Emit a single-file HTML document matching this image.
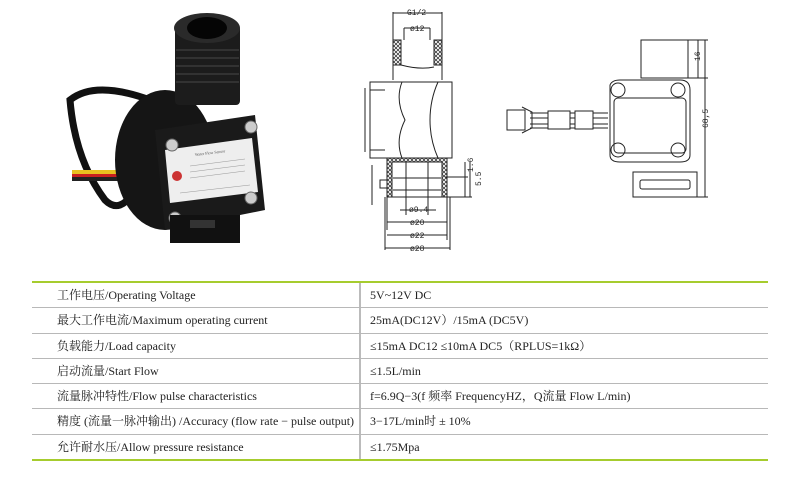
<!DOCTYPE html>
<html><head><meta charset="utf-8"><style>
body{margin:0;width:800px;height:485px;background:#fff;overflow:hidden;position:relative;font-family:"Liberation Serif","Noto Serif CJK SC",serif;}
.t{position:absolute;left:32px;top:281px;width:736px;border-top:2px solid #a6cc2e;border-bottom:2px solid #a6cc2e;}
.r{height:24.3px;border-bottom:1px solid #b8b8b8;position:relative;font-size:12px;color:#222;line-height:24px;}
.r:last-child{border-bottom:none}
.a{position:absolute;left:25px;white-space:nowrap}
.b{position:absolute;left:338px;white-space:nowrap}
.dv{position:absolute;left:327px;top:0;bottom:0;border-left:2px solid #bbb}
svg{position:absolute;left:0;top:0}
</style></head><body>
<svg width="800" height="270" viewBox="0 0 800 270">
<defs><pattern id="h" width="4" height="4" patternUnits="userSpaceOnUse"><path d="M0 0L4 4M4 0L0 4" stroke="#222" stroke-width="0.7"/></pattern></defs>
<path d="M70 100 Q95 80 150 100 Q130 140 135 190 Q120 215 105 200 Q75 160 70 100Z" fill="none" stroke="#111" stroke-width="7"/>
<rect x="72" y="170" width="90" height="4" fill="#e8c020"/>
<rect x="72" y="174" width="90" height="3" fill="#c82020"/>
<rect x="72" y="177" width="90" height="4" fill="#222"/>
<ellipse cx="165" cy="160" rx="50" ry="70" fill="#151515"/>
<rect x="175" y="25" width="65" height="80" rx="4" fill="#1c1c1c"/>
<ellipse cx="207" cy="28" rx="33" ry="15" fill="#2a2a2a"/>
<ellipse cx="207" cy="28" rx="20" ry="11" fill="#050505"/>
<g stroke="#3a3a3a" stroke-width="1.5"><path d="M176 50H239M176 58H239M176 66H239M176 74H239M176 82H239"/></g>
<path d="M155 130 L255 115 L265 210 L165 230Z" fill="#1a1a1a"/>
<path d="M165 150 L252 138 L258 192 L170 203Z" fill="#eee"/>
<g fill="#555" font-size="4"><text x="195" y="156" transform="rotate(-7 195 156)">Water Flow Sensor</text></g>
<g stroke="#999" stroke-width="0.6"><path d="M190 166L245 159M190 172L245 165M190 178L245 171M180 193L250 185"/></g>
<circle cx="177" cy="176" r="5" fill="#c33"/>
<g fill="#ccc" stroke="#666"><circle cx="172" cy="145" r="6"/><circle cx="251" cy="127" r="6"/><circle cx="175" cy="218" r="6"/><circle cx="251" cy="198" r="6"/></g>
<rect x="170" y="215" width="70" height="28" fill="#111"/>
<rect x="190" y="220" width="25" height="8" fill="#333"/>
<g fill="none" stroke="#222" stroke-width="1">
<path d="M393 12V40M442 12V40M393 13H442M404 28H430M404 28V40M430 28V40"/>
<rect x="393" y="40" width="8" height="25" fill="url(#h)"/><rect x="434" y="40" width="8" height="25" fill="url(#h)"/>
<path d="M393 40V80M442 40V80M401 65Q420 70 434 67"/>
<path d="M370 82H452V158H370Z"/><path d="M365 88V152M370 90H385M370 150H385"/>
<path d="M402 82Q395 100 405 120Q395 140 402 158M438 82Q430 100 430 120Q430 140 438 158"/>
<path d="M387 158H447V197H387Z" fill="url(#h)"/><rect x="392" y="162" width="50" height="35" fill="#fff"/>
<path d="M380 180h7v8h-7z"/>
<path d="M393 178H441M393 190H441"/>
<path d="M406 162V215M428 162V215M387 197V230M447 197V240M385 197V250M450 197V250M372 165V205"/>
<path d="M400 210H436M387 222H447M387 235H447M385 248H450M465 162V197M470 162V197M445 177H468M445 197H472"/>
</g>
<g font-family="Liberation Mono,monospace" font-size="8" fill="#222">
<text x="407" y="15">G1/2</text><text x="410" y="31">ø12</text>
<text x="409" y="212">ø9.4</text><text x="410" y="225">ø20</text><text x="410" y="238">ø22</text><text x="410" y="251">ø28</text>
<text x="473" y="172" transform="rotate(-90 473 172)">1.6</text><text x="481" y="186" transform="rotate(-90 481 186)">5.5</text>
</g>
<g fill="none" stroke="#222" stroke-width="1">
<rect x="641" y="40" width="47" height="38"/>
<path d="M610 85Q612 80 620 80H680Q690 80 690 90V155Q690 162 680 162H620Q610 162 610 155Z"/>
<rect x="614" y="98" width="72" height="55" rx="4"/>
<g><circle cx="618" cy="90" r="7"/><circle cx="678" cy="90" r="7"/><circle cx="618" cy="150" r="7"/><circle cx="678" cy="150" r="7"/></g>
<path d="M633 172H697V197H633Z"/><rect x="640" y="180" width="50" height="9" rx="2"/>
<path d="M507 110H525V130H507Z M522 107L532 112V128L522 133"/>
<path d="M530 113H608M530 118H608M530 124H608M530 128H608"/>
<rect x="548" y="111" width="22" height="18" fill="#fff"/><rect x="575" y="111" width="18" height="18" fill="#fff"/>
<path d="M688 40H708M688 78H708M698 40V78M705 40V197M690 197H708"/>
</g>
<g font-family="Liberation Mono,monospace" font-size="8" fill="#222">
<text x="700" y="61" transform="rotate(-90 700 61)">16</text><text x="708" y="128" transform="rotate(-90 708 128)">68,5</text>
</g>
</svg>
<div class="t"><div class="dv"></div>
<div class="r"><span class="a">工作电压/Operating Voltage</span><span class="b">5V~12V DC</span></div>
<div class="r"><span class="a">最大工作电流/Maximum operating current</span><span class="b">25mA(DC12V）/15mA (DC5V)</span></div>
<div class="r"><span class="a">负载能力/Load capacity</span><span class="b">≤15mA DC12 ≤10mA DC5（RPLUS=1kΩ）</span></div>
<div class="r"><span class="a">启动流量/Start Flow</span><span class="b">≤1.5L/min</span></div>
<div class="r"><span class="a">流量脉冲特性/Flow pulse characteristics</span><span class="b">f=6.9Q−3(f 频率 FrequencyHZ，Q流量 Flow L/min)</span></div>
<div class="r"><span class="a">精度 (流量一脉冲输出) /Accuracy (flow rate − pulse output)</span><span class="b">3−17L/min时 ± 10%</span></div>
<div class="r"><span class="a">允许耐水压/Allow pressure resistance</span><span class="b">≤1.75Mpa</span></div>
</div>
</body></html>
